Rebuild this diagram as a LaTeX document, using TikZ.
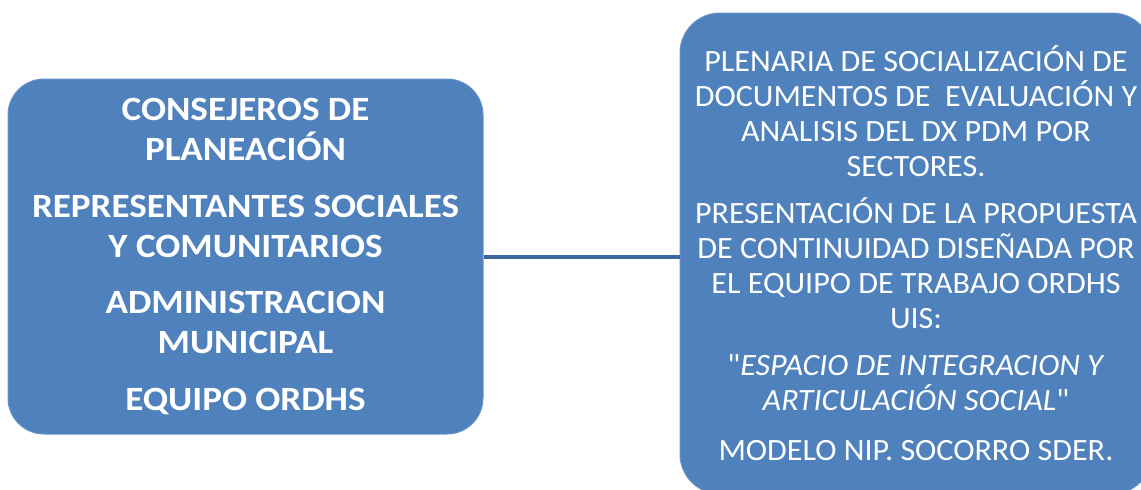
\documentclass[tikz,border=0pt]{standalone}
\usepackage{fontspec}
\setmainfont{Carlito}[Ligatures=TeXOff]
\newfontfamily\leftcal{Carlito}[Ligatures=TeXOff, FakeStretch=1.09]
\newfontfamily\rightcal{Carlito}[Ligatures=TeXOff, FakeStretch=1.035]
\usepackage{tikz}
\usetikzlibrary{positioning}
\definecolor{boxblue}{HTML}{4F81BD}
\definecolor{lineblue}{HTML}{3D679C}

\begin{document}
\begin{tikzpicture}[x=1pt, y=-1pt,
  sidebox/.style={rectangle, rounded corners=36pt, fill=boxblue, draw=boxblue!85!white, line width=1pt, text=white, align=center, inner sep=0pt},
  leftfont/.style={font=\fontsize{34}{40}\leftcal\bfseries},
  rightfont/.style={font=\fontsize{31}{35}\rightcal}]
\useasboundingbox (0,0) rectangle (1141,490);
\clip (0,0) rectangle (1141,490);

\node[sidebox, leftfont, minimum width=475pt, minimum height=355pt] at (245.5, 256.5) (agentes) {CONSEJEROS DE\\PLANEACIÓN\\[17pt]REPRESENTANTES SOCIALES\\Y COMUNITARIOS\\[16pt]ADMINISTRACION\\MUNICIPAL\\[17pt]EQUIPO ORDHS};
\node[sidebox, rightfont, minimum width=472pt, minimum height=481pt, rounded corners=40pt] at (916, 253.5) (plenaria) {PLENARIA DE SOCIALIZACIÓN DE\\DOCUMENTOS DE\ \ EVALUACIÓN Y\\ANALISIS DEL DX PDM POR\\SECTORES.\\[12pt]PRESENTACIÓN DE LA PROPUESTA\\DE CONTINUIDAD DISEÑADA POR\\EL EQUIPO DE TRABAJO ORDHS\\UIS:\\[12pt]"\textit{ESPACIO DE INTEGRACION Y}\\\textit{ARTICULACIÓN SOCIAL}"\\[15pt]MODELO NIP. SOCORRO SDER.};

\draw[lineblue, line width=4pt] (agentes.east) -- (agentes.east -| plenaria.west);

\end{tikzpicture}
\end{document}
